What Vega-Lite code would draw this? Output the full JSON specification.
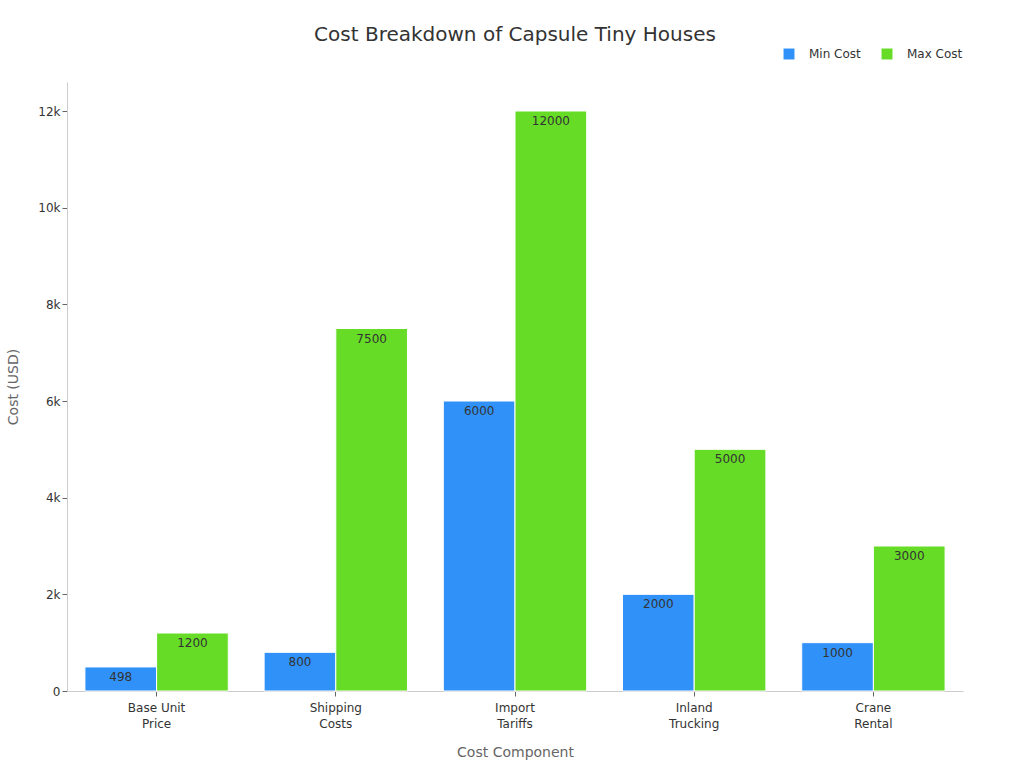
{
  "$schema": "https://vega.github.io/schema/vega-lite/v6.json",
  "width": 896,
  "height": 609,
  "autosize": {"type": "none"},
  "padding": {"left": 67, "top": 82, "right": 61, "bottom": 77},
  "background": "white",
  "title": {"text": "Cost Breakdown of Capsule Tiny Houses", "fontSize": 20, "font": "DejaVu Sans", "fontWeight": "normal", "color": "#333333", "frame": "group", "anchor": "middle", "offset": 3},
  "data": {
    "values": [
      {"component": "Base Unit Price", "type": "Min Cost", "cost": 498},
      {"component": "Base Unit Price", "type": "Max Cost", "cost": 1200},
      {"component": "Shipping Costs", "type": "Min Cost", "cost": 800},
      {"component": "Shipping Costs", "type": "Max Cost", "cost": 7500},
      {"component": "Import Tariffs", "type": "Min Cost", "cost": 6000},
      {"component": "Import Tariffs", "type": "Max Cost", "cost": 12000},
      {"component": "Inland Trucking", "type": "Min Cost", "cost": 2000},
      {"component": "Inland Trucking", "type": "Max Cost", "cost": 5000},
      {"component": "Crane Rental", "type": "Min Cost", "cost": 1000},
      {"component": "Crane Rental", "type": "Max Cost", "cost": 3000}
    ]
  },
  "encoding": {
    "x": {
      "field": "component", "type": "nominal", "sort": null, "title": "Cost Component",
      "scale": {"paddingInner": 0.2, "paddingOuter": 0.1},
      "axis": {
        "labelAngle": 0,
        "labelExpr": "datum.label == 'Base Unit Price' ? ['Base Unit', 'Price'] : split(datum.label, ' ')",
        "labelFontSize": 12, "labelColor": "#333333", "labelPadding": 6, "labelLineHeight": 16,
        "titleFontSize": 14, "titleFontWeight": "normal", "titleColor": "#666666", "titlePadding": 16,
        "domainColor": "#cccccc", "tickColor": "#666666", "tickSize": 5
      }
    },
    "xOffset": {"field": "type", "type": "nominal", "sort": ["Min Cost", "Max Cost"]},
    "y": {
      "field": "cost", "type": "quantitative", "title": "Cost (USD)",
      "scale": {"domain": [0, 12600], "nice": false},
      "axis": {
        "values": [0, 2000, 4000, 6000, 8000, 10000, 12000], "grid": false,
        "labelExpr": "datum.value == 0 ? '0' : format(datum.value / 1000, 'd') + 'k'",
        "labelFontSize": 12, "labelColor": "#333333",
        "titleFontSize": 14, "titleFontWeight": "normal", "titleColor": "#666666", "titlePadding": 17,
        "domainColor": "#cccccc", "tickColor": "#666666", "tickSize": 5
      }
    }
  },
  "layer": [
    {
      "mark": {"type": "bar", "stroke": "white", "strokeWidth": 1},
      "encoding": {
        "color": {
          "field": "type", "type": "nominal", "title": null,
          "scale": {"domain": ["Min Cost", "Max Cost"], "range": ["#3091f8", "#66dc26"]},
          "legend": {"orient": "none", "legendX": 716, "legendY": -34, "direction": "horizontal", "symbolType": "square", "symbolSize": 120, "symbolStrokeWidth": 0, "labelFontSize": 12, "labelColor": "#333333", "labelOffset": 14, "columnPadding": 20}
        }
      }
    },
    {
      "mark": {"type": "text", "baseline": "top", "dy": 5, "fontSize": 12, "color": "#333333"},
      "encoding": {"text": {"field": "cost", "type": "quantitative"}}
    }
  ],
  "config": {
    "font": "DejaVu Sans",
    "view": {"stroke": null}
  }
}
